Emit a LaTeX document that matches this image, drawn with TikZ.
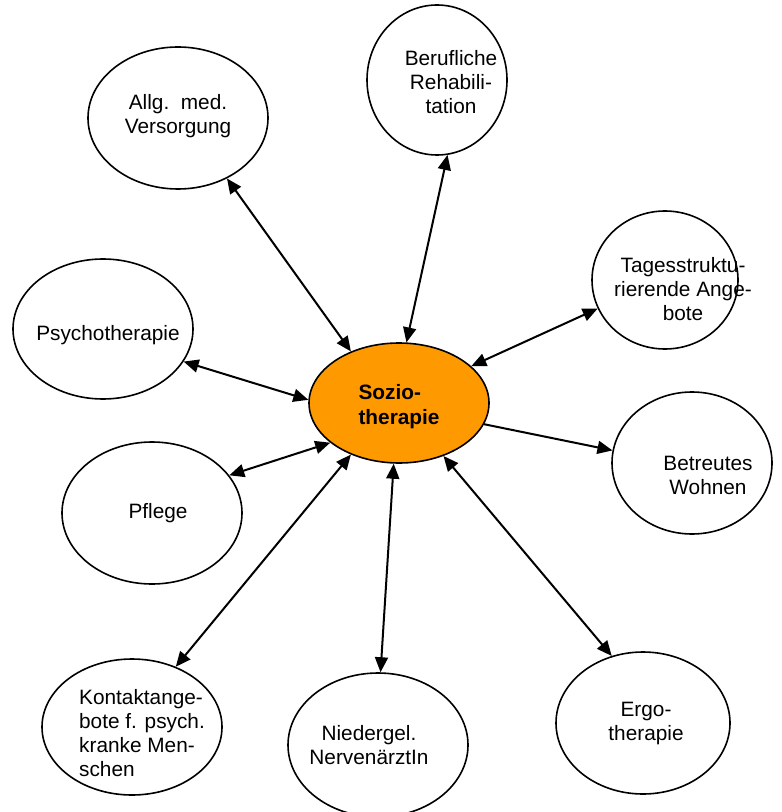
\documentclass[tikz,border=0pt]{standalone}
\usepackage{fontspec}
\setmainfont{Liberation Sans}
\usetikzlibrary{arrows.meta,shapes.geometric}
\definecolor{sozorange}{RGB}{255,153,0}

\begin{document}
\begin{tikzpicture}[x=0.5pt,y=-0.5pt,>={Triangle[length=7.5pt,width=6.5pt]}]
\tikzstyle{bubble}=[draw,ellipse,line width=0.8pt,inner sep=0pt]
\tikzstyle{lbl}=[inner sep=0pt,align=center,font=\fontsize{10.4}{12}\selectfont]
\tikzstyle{link}=[<->,line width=1pt]
\useasboundingbox (0,0) rectangle (781,812);
% outer ring
\node[bubble,minimum width=90pt,minimum height=71pt] (allg) at (178,118) {};
\node[lbl] (allgtxt) at ([yshift=1pt]allg) {Allg.~~med.\\Versorgung};
\node[bubble,minimum width=70pt,minimum height=75pt] (beruf) at (437,80) {};
\node[lbl] (beruftxt) at ([xshift=7pt,yshift=-1pt]beruf) {Berufliche\\Rehabili-\\tation};
\node[bubble,minimum width=73pt,minimum height=69pt] (tages) at (665,280) {};
\node[lbl] (tagestxt) at ([xshift=9pt,yshift=-4.5pt]tages) {Tagesstruktu-\\rierende Ange-\\bote};
\node[bubble,minimum width=90pt,minimum height=70pt] (psycho) at (103,329) {};
\node[lbl] (psychotxt) at ([xshift=2.5pt,yshift=-3pt]psycho) {Psychotherapie};
\node[bubble,minimum width=80pt,minimum height=71pt] (wohnen) at (692,463) {};
\node[lbl] (wohnentxt) at ([xshift=8pt,yshift=-6pt]wohnen) {Betreutes\\Wohnen};
\node[bubble,minimum width=90pt,minimum height=71pt] (pflege) at (152,513) {};
\node[lbl] (pflegetxt) at ([xshift=3pt]pflege) {Pflege};
\node[bubble,minimum width=90pt,minimum height=68pt] (kontakt) at (132,727) {};
\node[lbl,align=left] (kontakttxt) at ([xshift=5pt,yshift=-3pt]kontakt) {Kontaktange-\\bote f. psych.\\kranke Men-\\schen};
\node[bubble,minimum width=90pt,minimum height=72pt] (nieder) at (378,745) {};
\node[lbl] (niedertxt) at ([xshift=-4.5pt]nieder) {Niedergel.\\NervenärztIn};
\node[bubble,minimum width=87pt,minimum height=71pt] (ergo) at (643,723) {};
\node[lbl] (ergotxt) at ([xshift=1.5pt]ergo) {Ergo-\\therapie};
% centre
\node[bubble,fill=sozorange,minimum width=90pt,minimum height=60pt] (sozio) at (399,403) {};
\node[lbl,align=left,font=\fontsize{10.4}{12.5}\selectfont\bfseries] (soziotxt) at ([yshift=-2pt]sozio) {Sozio-\\therapie};
% connectors
\draw[link] (allg.-51) -- (sozio.133);
\draw[link] (beruf.-82) -- (sozio.83);
\draw[link] (tages.203) -- (sozio.27);
\draw[link] (psycho.-22) -- (sozio.178);
\draw[->,line width=1pt] (sozio.-14) -- (wohnen.171);
\draw[link] (pflege.26) -- (sozio.210);
\draw[link] (kontakt.54) -- (sozio.227);
\draw[link] (nieder.88) -- (sozio.265);
\draw[link] (ergo.115) -- (sozio.-50);
\end{tikzpicture}
\end{document}
